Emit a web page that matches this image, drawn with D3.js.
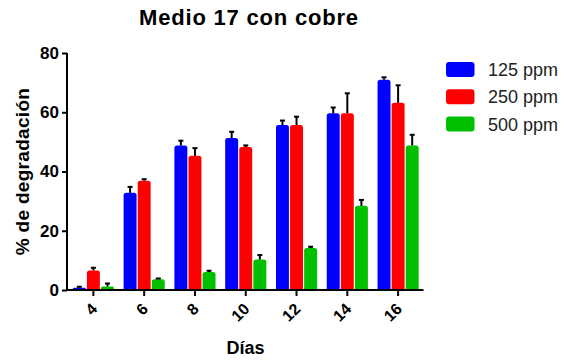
<!DOCTYPE html>
<html>
<head>
<meta charset="utf-8">
<script src="https://cdn.jsdelivr.net/npm/d3@7"></script>
<style>
  html, body { margin: 0; padding: 0; background: #fff; }
  svg { display: block; font-family: "Liberation Sans", Arial, sans-serif; }
</style>
</head>
<body>
<svg id="chart" width="581" height="360"></svg>
<script>
// Degradation (%) per day for each copper concentration
const days = ["4", "6", "8", "10", "12", "14", "16"];
const seriesNames = ["125 ppm", "250 ppm", "500 ppm"];
const colors = ["#0000ff", "#ff0000", "#00c000"];
const mean125 = [0.8, 32.8, 48.8, 51.3, 55.7, 59.7, 71.0];
const mean250 = [6.6, 36.9, 45.3, 48.3, 55.7, 59.7, 63.2];
const mean500 = [1.2, 3.6, 6.1, 10.3, 14.2, 28.4, 48.8];
const err125 = [0.3, 2.0, 1.6, 2.1, 1.5, 1.9, 0.8];
const err250 = [0.9, 0.5, 2.6, 0.5, 2.8, 6.7, 5.9];
const err500 = [1.0, 0.3, 0.4, 1.5, 0.4, 2.0, 3.6];
const yTicks = [0, 20, 40, 60, 80];

const means = [mean125, mean250, mean500];
const errs = [err125, err250, err500];

const svg = d3.select("#chart");

const x0 = d3.scaleBand().domain(days).range([68, 423.5]).paddingInner(0.19).paddingOuter(0.095);
const x1 = d3.scaleBand().domain(seriesNames).range([0, x0.bandwidth()]).paddingInner(0.08);
const y = d3.scaleLinear().domain([0, 80]).range([290, 53]);

// Bars and upper error whiskers
days.forEach((d, i) => {
  const g = svg.append("g").attr("transform", `translate(${x0(d)},0)`);
  seriesNames.forEach((s, k) => {
    const v = means[k][i], e = errs[k][i];
    const bx = x1(s), bw = x1.bandwidth(), cx = bx + bw / 2;
    g.append("path")
      .attr("d", () => {
        const r = 2.5, top = y(v), bot = y(0);
        const rr = Math.min(r, (bot - top) / 2);
        return `M${bx},${bot}V${top + rr}Q${bx},${top} ${bx + rr},${top}H${bx + bw - rr}Q${bx + bw},${top} ${bx + bw},${top + rr}V${bot}Z`;
      })
      .attr("fill", colors[k]);
    g.append("line")
      .attr("x1", cx).attr("x2", cx)
      .attr("y1", y(v)).attr("y2", y(v + e))
      .attr("stroke", "#000").attr("stroke-width", 2);
    g.append("line")
      .attr("x1", cx - 2.5).attr("x2", cx + 2.5)
      .attr("y1", y(v + e)).attr("y2", y(v + e))
      .attr("stroke", "#000").attr("stroke-width", 2);
  });
});

// Axes
const yAxis = svg.append("g")
  .attr("transform", "translate(67,0)")
  .call(d3.axisLeft(y).tickValues(yTicks).tickSize(5).tickPadding(3));
yAxis.select(".domain").attr("stroke-width", 2).attr("d", `M0,${y(80)}V${y(0)}`);
yAxis.selectAll(".tick line").attr("stroke-width", 2);
yAxis.selectAll(".tick text")
  .attr("font-size", 17).attr("font-weight", "bold").attr("fill", "#000")
  .attr("font-family", "Liberation Sans, Arial, sans-serif");

const xAxis = svg.append("g")
  .attr("transform", `translate(0,${y(0)})`)
  .call(d3.axisBottom(x0).tickSize(6).tickSizeOuter(0));
xAxis.select(".domain").attr("stroke-width", 2).attr("d", `M66,0H423.5`);
xAxis.selectAll(".tick line").attr("stroke-width", 2);
xAxis.selectAll(".tick text")
  .attr("font-size", 16).attr("font-weight", "bold").attr("fill", "#000")
  .attr("font-family", "Liberation Sans, Arial, sans-serif")
  .attr("text-anchor", "end")
  .attr("dy", null)
  .attr("y", null)
  .attr("transform", "translate(1,16) rotate(-45)")
  .attr("dominant-baseline", "central");

// Title and axis labels
svg.append("text")
  .attr("x", 249).attr("y", 25)
  .attr("text-anchor", "middle")
  .attr("font-size", 22).attr("font-weight", "bold")
  .attr("letter-spacing", 0.8)
  .text("Medio 17 con cobre");

svg.append("text")
  .attr("transform", `translate(29,${(y(0) + y(80)) / 2}) rotate(-90)`)
  .attr("text-anchor", "middle")
  .attr("font-size", 19).attr("font-weight", "bold")
  .attr("letter-spacing", 0.3)
  .text("% de degradación");

svg.append("text")
  .attr("x", 245.5).attr("y", 354)
  .attr("text-anchor", "middle")
  .attr("font-size", 18).attr("font-weight", "bold")
  .text("Días");

// Legend
const legend = svg.append("g").attr("transform", "translate(446,62)");
seriesNames.forEach((s, k) => {
  const row = legend.append("g").attr("transform", `translate(0,${k * 27.3})`);
  row.append("rect")
    .attr("width", 28.5).attr("height", 15).attr("rx", 3)
    .attr("fill", colors[k]);
  row.append("text")
    .attr("x", 42).attr("y", 14)
    .attr("font-size", 18)
    .attr("fill", "#222")
    .text(s);
});
</script>
</body>
</html>
